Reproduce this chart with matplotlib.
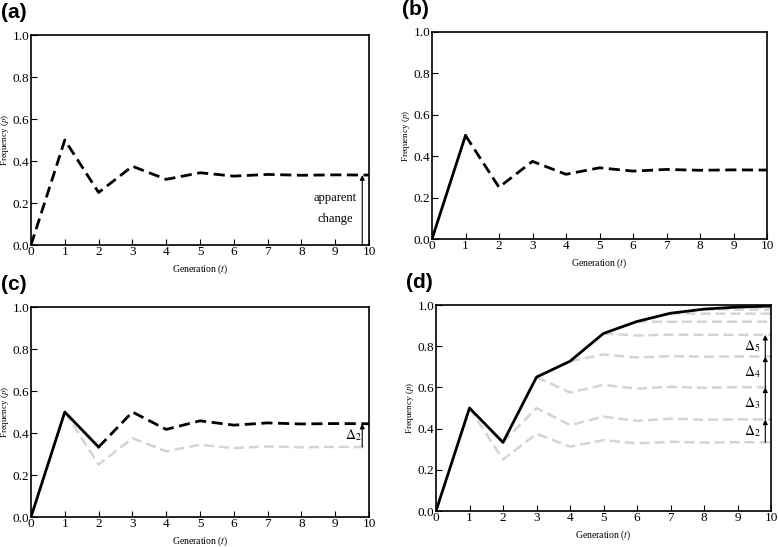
import matplotlib.pyplot as plt

plt.rcParams['font.family'] = ['Liberation Serif', 'DejaVu Serif']
plt.rcParams['mathtext.fontset'] = 'stix'

gens = list(range(11))

# allele frequency with no further selection after t=1
p_none = [0.0, 0.5, 0.25, 0.375, 0.3125, 0.344, 0.328, 0.336, 0.332, 0.334, 0.333]

# panel (c): selection continues one more generation
p_sel2 = [0.333, 0.5, 0.417, 0.458, 0.4375, 0.448, 0.443, 0.445, 0.444]

# panel (d): selection every generation
p_full = [0.0, 0.5, 0.333, 0.65, 0.727, 0.862, 0.92, 0.96, 0.98, 0.99, 0.995]

# grey trajectories in (d), start generation -> values
grey_start = [1, 2, 3, 4, 5, 6, 7, 8, 9]
grey_vals = [
    [0.5, 0.25, 0.375, 0.3125, 0.344, 0.328, 0.336, 0.332, 0.334, 0.333],
    [0.333, 0.5, 0.417, 0.458, 0.4375, 0.448, 0.443, 0.445, 0.444],
    [0.65, 0.575, 0.6125, 0.594, 0.603, 0.598, 0.601, 0.600],
    [0.727, 0.76, 0.745, 0.752, 0.749, 0.750, 0.750],
    [0.862, 0.852, 0.856, 0.855, 0.855, 0.855],
    [0.92, 0.918, 0.919, 0.919, 0.919],
    [0.96, 0.958, 0.958, 0.958],
    [0.98, 0.978, 0.978],
    [0.99, 0.989],
]

# delta arrows (bottom, top) in (d)
deltas = [(0.333, 0.444), (0.444, 0.6), (0.6, 0.75), (0.75, 0.855)]
delta_names = [r'$\Delta_2$', r'$\Delta_3$', r'$\Delta_4$', r'$\Delta_5$']

W, H = 778, 547
fig = plt.figure(figsize=(W / 100, H / 100), dpi=100)


def make_ax(l, t, r, b, tag):
    ax = fig.add_axes([l / W, 1 - b / H, (r - l) / W, (b - t) / H])
    ax.set_xlim(0, 10)
    ax.set_ylim(0, 1)
    ax.set_xticks(gens)
    ax.set_yticks([0, 0.2, 0.4, 0.6, 0.8, 1.0])
    ax.set_yticklabels(['0.0', '0.2', '0.4', '0.6', '0.8', '1.0'])
    ax.tick_params(direction='in', length=4, width=0.8, labelsize=9.5, pad=1)
    for s in ax.spines.values():
        s.set_linewidth(1.2)
    ax.set_xlabel(r'Generation ($\mathit{t}$)', fontsize=7, labelpad=3)
    ax.set_ylabel(r'Frequency ($\mathit{p}$)', fontsize=6.5, labelpad=1)
    fig.text((l - 30) / W, 1 - 3 / H - (t - 35) / H, tag, family='Liberation Sans',
             fontweight='bold', fontsize=15, va='top', ha='left')
    return ax


black = dict(color='black', lw=2)
dash = dict(color='black', lw=2, dashes=(4, 2))
grey = dict(color='#d4d4d4', lw=1.8, dashes=(4, 2))
arrow = dict(arrowstyle='-|>', color='black', lw=0.8, mutation_scale=7, shrinkA=0, shrinkB=0)

# (a)
ax = make_ax(31, 35, 369, 245, '(a)')
ax.plot(gens, p_none, **dash)
ax.annotate('', xy=(9.8, p_none[-1]), xytext=(9.8, 0), arrowprops=arrow)
ax.text(9.0, 0.225, 'apparent', ha='center', va='center', fontsize=9)
ax.text(9.0, 0.125, 'change', ha='center', va='center', fontsize=9)

# (b)
ax = make_ax(432, 32, 767, 239, '(b)')
ax.plot(gens[:2], p_none[:2], **black)
ax.plot(gens[1:], p_none[1:], **dash)

# (c)
ax = make_ax(31, 307, 369, 517, '(c)')
ax.plot(gens[1:], p_none[1:], **grey)
ax.plot(gens[2:], p_sel2, **dash)
ax.plot(gens[:3], [p_none[0], p_none[1], p_sel2[0]], **black)
ax.annotate('', xy=(9.8, p_sel2[-1]), xytext=(9.8, p_none[-1]), arrowprops=arrow)
ax.text(9.55, 0.39, r'$\Delta_2$', ha='center', va='center', fontsize=10)

# (d)
ax = make_ax(436, 305, 771, 511, '(d)')
for s, v in zip(grey_start, grey_vals):
    ax.plot(gens[s:s + len(v)], v, **grey)
ax.plot(gens, p_full, **black)
for (lo, hi), name in zip(deltas, delta_names):
    ax.annotate('', xy=(9.83, hi), xytext=(9.83, lo), arrowprops=arrow)
    ax.text(9.45, (lo + hi) / 2, name, ha='center', va='center', fontsize=10)

fig.savefig('out.png', dpi=100)
